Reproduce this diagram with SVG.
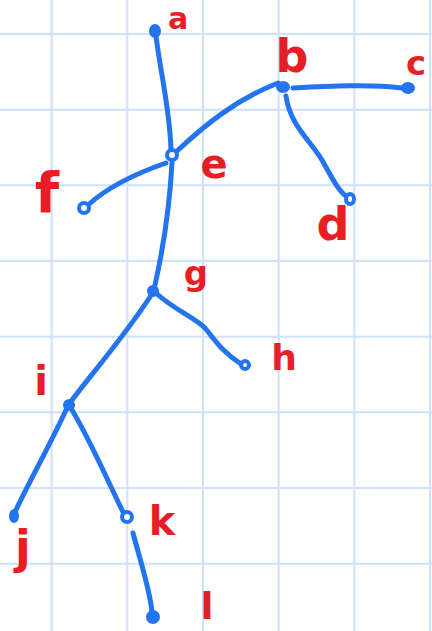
<svg xmlns="http://www.w3.org/2000/svg" width="432" height="631" viewBox="0 0 432 631">
<style>
.grid line{stroke:#cfe1fb;stroke-width:2}
.edge{fill:none;stroke:#2374ee;stroke-width:5;stroke-linecap:round;stroke-linejoin:round}
.dot{fill:#2374ee}
.ring{fill:#ffffff;stroke:#2374ee;stroke-width:4}
.lab{font-family:"DejaVu Sans",sans-serif;font-weight:bold;fill:#e81e25;text-anchor:middle;font-size:34px}
</style>
<rect width="432" height="631" fill="#ffffff"/>
<g class="grid">
<line x1="51.7" y1="0" x2="51.7" y2="631"/>
<line x1="127.3" y1="0" x2="127.3" y2="631"/>
<line x1="203" y1="0" x2="203" y2="631"/>
<line x1="278.7" y1="0" x2="278.7" y2="631"/>
<line x1="354.3" y1="0" x2="354.3" y2="631"/>
<line x1="430" y1="0" x2="430" y2="631"/>
<line x1="0" y1="34" x2="432" y2="34"/>
<line x1="0" y1="109.7" x2="432" y2="109.7"/>
<line x1="0" y1="185.3" x2="432" y2="185.3"/>
<line x1="0" y1="261" x2="432" y2="261"/>
<line x1="0" y1="336.7" x2="432" y2="336.7"/>
<line x1="0" y1="412.3" x2="432" y2="412.3"/>
<line x1="0" y1="488" x2="432" y2="488"/>
<line x1="0" y1="563.7" x2="432" y2="563.7"/>
</g>
<g id="connectors">
<path class="edge" d="M156,36 C160,70 170,110 171,150"/>
<path class="edge" d="M177,151 C205,125 235,100 278,83"/>
<path class="edge" d="M293,88 C330,86 370,84 402,88"/>
<path class="edge" d="M286,96 C290,125 310,140 322,160 C332,178 338,190 346,196"/>
<path class="edge" d="M166,163 C140,172 110,185 88,205"/>
<path class="edge" d="M172,163 C170,200 165,240 155,285"/>
<path class="edge" d="M157,294 C175,310 195,318 205,328 C215,340 222,352 241,364"/>
<path class="edge" d="M150,297 C125,335 95,370 72,400"/>
<path class="edge" d="M66,410 C50,445 30,480 16,510"/>
<path class="edge" d="M72,410 C90,440 105,475 123,512"/>
<path class="edge" d="M133,533 C140,560 150,590 152,612"/>
</g>
<g id="a"><ellipse class="dot" cx="155" cy="31" rx="6" ry="7"/><text class="lab" x="178" y="29" style="font-size:30px">a</text></g>
<g id="b"><ellipse class="dot" cx="283" cy="87" rx="7" ry="6"/><text class="lab" x="292" y="72" style="font-size:46px">b</text></g>
<g id="c"><ellipse class="dot" cx="408" cy="88" rx="7" ry="6"/><text class="lab" x="416" y="75">c</text></g>
<g id="d"><ellipse class="ring" cx="350" cy="199" rx="4" ry="5"/><text class="lab" x="333" y="240" style="font-size:46px">d</text></g>
<g id="e"><circle class="ring" cx="172" cy="155" r="5"/><text class="lab" x="214" y="178" style="font-size:40px">e</text></g>
<g id="f"><circle class="ring" cx="84" cy="208" r="5"/><text class="lab" x="47" y="212" style="font-size:56px">f</text></g>
<g id="g"><circle class="dot" cx="153" cy="291" r="6"/><text class="lab" x="196" y="285">g</text></g>
<g id="h"><circle class="ring" cx="245" cy="365" r="4"/><text class="lab" x="284" y="370" style="font-size:36px">h</text></g>
<g id="i"><circle class="dot" cx="69" cy="405" r="6"/><text class="lab" x="41" y="395" style="font-size:40px">i</text></g>
<g id="j"><ellipse class="dot" cx="14" cy="516" rx="5" ry="7"/><text class="lab" x="23" y="563" style="font-size:46px">j</text></g>
<g id="k"><circle class="ring" cx="127" cy="517" r="5"/><text class="lab" x="162" y="535" style="font-size:40px">k</text></g>
<g id="l"><circle class="dot" cx="153" cy="617" r="7"/><text class="lab" x="207" y="619" style="font-size:38px">l</text></g>
</svg>
